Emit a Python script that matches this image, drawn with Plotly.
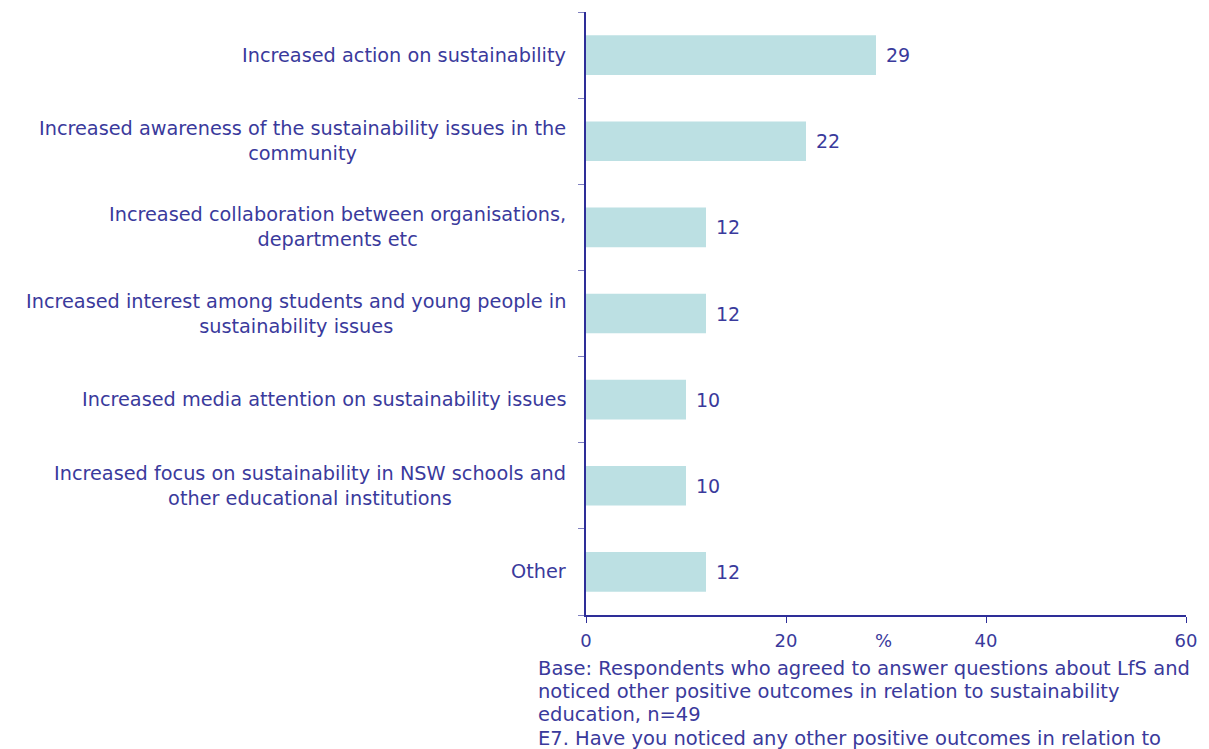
import plotly.graph_objects as go

# Survey outcomes (percent of respondents), top to bottom
categories = [
    "Increased action on sustainability",
    "Increased awareness of the sustainability issues in the<br>community",
    "Increased collaboration between organisations,<br>departments etc",
    "Increased interest among students and young people in<br>sustainability issues",
    "Increased media attention on sustainability issues",
    "Increased focus on sustainability in NSW schools and<br>other educational institutions",
    "Other",
]
values = [29, 22, 12, 12, 10, 10, 12]
x_ticks = [0, 20, 40, 60]
footnote_lines = [
    "Base: Respondents who agreed to answer questions about LfS and",
    "noticed other positive outcomes in relation to sustainability",
    "education, n=49",
    "E7. Have you noticed any other positive outcomes in relation to",
]

TEXT = "#3a3a9c"
AXIS = "#2e2e98"
BAR = "#bce0e3"
FONT = "DejaVu Sans"

ids = list(range(len(categories)))

fig = go.Figure(
    go.Bar(
        x=values,
        y=ids,
        orientation="h",
        marker=dict(color=BAR, line=dict(width=0)),
        width=0.46,
        hoverinfo="skip",
    )
)

# Value labels just beyond each bar end
for i, v in zip(ids, values):
    fig.add_annotation(
        x=v, y=i, xref="x", yref="y",
        text=str(v), showarrow=False,
        xanchor="left", yanchor="middle", xshift=8,
        font=dict(family=FONT, size=19, color=TEXT),
    )

# Category labels, centred text block placed left of the axis
for i, label in zip(ids, categories):
    fig.add_annotation(
        x=0, y=i, xref="x", yref="y",
        text=label, showarrow=False,
        xanchor="right", yanchor="middle", align="center",
        xshift=-18,
        font=dict(family=FONT, size=19.3, color=TEXT),
    )

# Axis unit label, level with the tick labels
fig.add_annotation(
    x=0.495, y=-0.043, xref="paper", yref="paper",
    text="%", showarrow=False,
    xanchor="center", yanchor="middle",
    font=dict(family=FONT, size=18, color=TEXT),
)

# Footnote under the axis, one annotation per line for tighter leading
for k, line in enumerate(footnote_lines):
    fig.add_annotation(
        x=-0.084, y=0, xref="paper", yref="paper",
        text=line, showarrow=False,
        xanchor="left", yanchor="middle", align="left",
        yshift=-53 - 23.4 * k,
        font=dict(family=FONT, size=19.5, color=TEXT),
    )

fig.update_layout(
    width=1209, height=749,
    margin=dict(l=586, r=21, t=12, b=134),
    paper_bgcolor="white", plot_bgcolor="white",
    showlegend=False,
    font=dict(family=FONT, size=18, color=TEXT),
    xaxis=dict(
        range=[0, 60], tickvals=x_ticks,
        showgrid=False, zeroline=False,
        showline=True, linecolor=AXIS, linewidth=2,
        ticks="outside", ticklen=6, tickcolor=AXIS, tickwidth=1,
        ticklabelstandoff=2,
        tickfont=dict(family=FONT, size=18, color=TEXT),
    ),
    yaxis=dict(
        range=[6.5, -0.5], tickvals=[i - 0.5 for i in ids] + [6.5],
        showticklabels=False,
        showgrid=False, zeroline=False,
        showline=True, linecolor=AXIS, linewidth=2,
        ticks="outside", ticklen=6, tickcolor="#8080c0", tickwidth=1,
    ),
)

fig.write_html("out.html")
